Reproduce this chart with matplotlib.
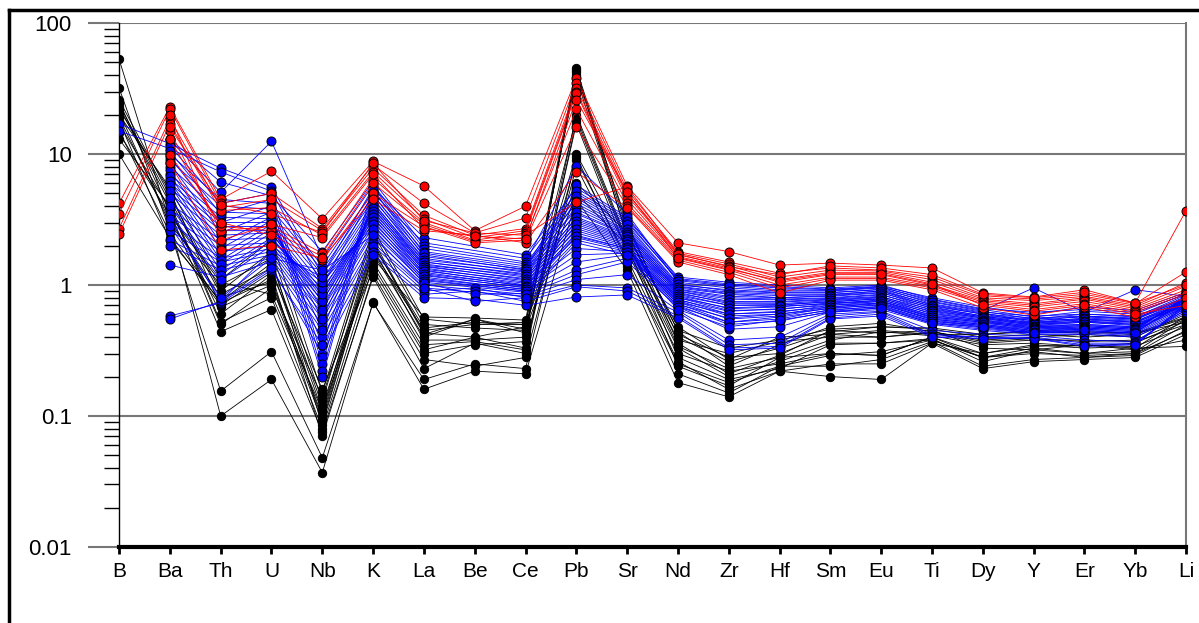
import numpy as np
import matplotlib.pyplot as plt
from matplotlib.lines import Line2D
from matplotlib.ticker import LogLocator, NullFormatter, FixedLocator

plt.rcParams['font.family'] = ['Liberation Sans', 'DejaVu Sans']

elements = ['B', 'Ba', 'Th', 'U', 'Nb', 'K', 'La', 'Be', 'Ce', 'Pb', 'Sr',
            'Nd', 'Zr', 'Hf', 'Sm', 'Eu', 'Ti', 'Dy', 'Y', 'Er', 'Yb', 'Li']
N = np.nan

# black group
black_samples = [
    [53, 3.0, 0.10, 0.19, 0.037, 0.74, 0.16, 0.22, 0.21, 4.5, 1.3, 0.18, 0.14, 0.22, 0.20, 0.19, 0.36, 0.23, 0.26, 0.27, 0.28, 0.42],
    [32, 2.6, 0.155, 0.31, 0.048, 0.73, 0.19, 0.25, 0.23, 9.5, 1.5, 0.21, 0.15, 0.24, 0.24, 0.27, 0.37, 0.24, 0.27, 0.28, 0.29, 0.45],
    [25, 3.6, 0.44, 0.65, 0.075, 1.15, 0.23, 0.36, 0.30, 18, 2.0, 0.24, 0.17, 0.28, 0.30, 0.29, 0.40, 0.28, 0.31, 0.28, 0.30, 0.50],
    [23, 4.2, 0.52, 0.80, 0.08, 1.4, 0.32, 0.40, 0.33, 20, 2.2, 0.28, 0.19, 0.23, 0.35, 0.36, 0.38, 0.28, 0.33, 0.30, 0.31, 0.55],
    [22, 5.2, 0.68, 1.0, 0.09, 1.75, 0.40, 0.55, 0.43, 42, 2.6, 0.36, 0.21, 0.29, 0.45, 0.43, 0.45, 0.33, 0.32, 0.35, 0.33, 0.58],
    [19, 3.1, 0.81, 1.05, 0.10, 2.0, 0.47, 0.52, 0.50, 45, 2.8, 0.44, 0.24, 0.35, 0.48, 0.51, 0.44, 0.38, 0.40, 0.42, 0.40, 0.60],
    [18, 2.2, 0.75, 1.47, 0.12, 1.6, 0.57, 0.56, 0.54, 38, 2.4, 0.48, 0.27, 0.40, 0.42, 0.45, 0.42, 0.42, 0.45, 0.44, 0.43, 0.52],
    [14.5, 3.4, 1.05, 0.85, 0.11, 1.5, 0.35, 0.37, 0.32, 17, 1.8, 0.30, 0.22, 0.25, 0.30, 0.29, 0.40, 0.30, 0.34, 0.35, 0.32, 0.38],
    [13, 4.0, 0.50, 0.95, 0.14, 2.2, 0.43, 0.40, 0.48, 10, 1.9, 0.33, 0.20, 0.26, 0.36, 0.36, 0.39, 0.26, 0.32, 0.30, 0.33, 0.34],
    [10, 2.3, 0.70, 1.25, 0.16, 1.3, 0.30, 0.35, 0.37, 9.0, 1.6, 0.26, 0.16, 0.22, 0.25, 0.25, 0.36, 0.30, 0.35, 0.33, 0.34, 0.48],
    [26, 4.8, 0.90, 1.8, 0.13, 2.5, 0.50, 0.47, 0.45, 40, 3.0, 0.40, 0.26, 0.33, 0.44, 0.48, 0.46, 0.40, 0.42, 0.40, 0.42, 0.56],
    [21, 2.9, 1.0, 1.6, 0.085, 1.8, 0.45, 0.50, 0.52, 19, 2.1, 0.38, 0.30, 0.37, 0.40, 0.40, 0.43, 0.36, 0.38, 0.38, 0.37, 0.50],
    [17, 3.8, 0.60, 1.2, 0.07, 1.2, 0.27, 0.24, 0.28, 8.0, 1.4, 0.25, 0.18, 0.24, 0.29, 0.31, 0.38, 0.28, 0.30, 0.29, 0.30, 0.44],
    [20, 5.5, 1.1, 2.2, 0.15, 2.7, 0.55, 0.50, 0.50, 6.0, 2.5, 0.45, 0.33, 0.38, 0.46, 0.48, 0.47, 0.42, 0.44, 0.43, 0.43, 0.57],
    [15, 2.5, 0.73, 1.1, 0.095, 1.9, 0.38, 0.38, 0.40, 44, 2.3, 0.34, 0.23, 0.28, 0.38, 0.44, 0.41, 0.35, 0.36, 0.34, 0.36, 0.53],
    [24, 4.5, 0.85, 1.35, 0.11, 2.1, 0.42, 0.55, 0.46, 5.0, 2.0, 0.42, 0.28, 0.30, 0.42, 0.40, 0.44, 0.37, 0.39, 0.37, 0.38, 0.55],
]

# blue group
blue_samples = [
    [17, 12, 7.8, 5.6, 1.2, 5.5, 2.3, N, 1.7, 5.5, 3.2, 1.15, 1.05, 1.0, 0.95, 1.0, 0.78, 0.66, 0.62, 0.65, 0.62, 0.85],
    [15, 11, 7.3, 5.2, 1.0, 5.0, 2.1, N, 1.6, 5.0, 3.0, 1.1, 1.0, 0.95, 0.92, 0.97, 0.75, 0.64, 0.95, 0.62, 0.92, 0.82],
    [N, 13, 6.1, 4.8, 1.8, 6.2, 2.0, N, 1.5, 8.1, 3.5, 1.05, 0.95, 0.9, 0.9, 0.95, 0.72, 0.62, 0.58, 0.60, 0.58, 0.80],
    [N, 12.8, 5.1, 12.5, 1.6, 5.8, 1.9, N, 1.45, 4.6, 2.8, 1.0, 0.92, 0.88, 0.88, 0.92, 0.70, 0.60, 0.56, 0.58, 0.56, 0.78],
    [N, 10, 4.5, 4.2, 1.4, 5.2, 1.8, N, 1.4, 4.2, 2.6, 0.98, 0.88, 0.85, 0.85, 0.9, 0.68, 0.58, 0.55, 0.57, 0.55, 0.76],
    [N, 9, 4.0, 3.8, 1.3, 4.8, 1.7, N, 1.3, 3.8, 2.5, 0.95, 0.85, 0.8, 0.83, 0.88, 0.66, 0.57, 0.54, 0.55, 0.53, 0.74],
    [N, 8, 3.6, 3.5, 1.2, 4.5, 1.6, N, 1.25, 3.5, 2.4, 0.92, 0.8, 0.78, 0.8, 0.85, 0.64, 0.56, 0.52, 0.54, 0.52, 0.72],
    [N, 7, 3.3, 3.2, 1.1, 4.2, 1.5, N, 1.2, 3.2, 2.3, 0.9, 0.75, 0.75, 0.78, 0.82, 0.62, 0.55, 0.51, 0.53, 0.50, 0.70],
    [N, 6.5, 3.0, 3.0, 1.0, 4.0, 1.45, N, 1.15, 3.0, 2.2, 0.88, 0.72, 0.72, 0.76, 0.8, 0.60, 0.54, 0.50, 0.52, 0.49, 0.72],
    [N, 6.0, 2.8, 2.8, 0.9, 3.8, 1.4, N, 1.1, 2.8, 2.1, 0.85, 0.7, 0.7, 0.75, 0.78, 0.58, 0.53, 0.49, 0.50, 0.48, 0.75],
    [N, 5.5, 2.6, 2.6, 0.85, 3.6, 1.35, N, 1.05, 2.6, 2.0, 0.82, 0.66, 0.68, 0.73, 0.76, 0.57, 0.52, 0.48, 0.49, 0.47, 0.78],
    [N, 5.0, 2.4, 2.5, 0.8, 3.4, 1.3, N, 1.0, 2.4, 1.9, 0.8, 0.64, 0.65, 0.72, 0.75, 0.56, 0.51, 0.47, 0.48, 0.46, 0.80],
    [N, 4.2, 2.2, 2.3, 0.75, 3.2, 1.25, N, 0.98, 2.3, 1.85, 0.78, 0.6, 0.62, 0.7, 0.73, 0.55, 0.50, 0.46, 0.47, 0.45, 0.82],
    [N, 3.8, 2.0, 2.1, 0.7, 3.0, 1.2, N, 0.95, 1.9, 1.8, 0.76, 0.58, 0.6, 0.68, 0.72, 0.54, 0.49, 0.45, 0.46, 0.44, 0.70],
    [N, 3.4, 1.8, 2.0, 0.65, 2.8, 1.15, N, 0.92, 1.7, 1.75, 0.74, 0.55, 0.58, 0.67, 0.7, 0.53, 0.48, 0.44, 0.45, 0.43, 0.68],
    [N, 3.0, 1.6, 1.9, 0.6, 2.6, 1.1, N, 0.9, 1.5, 1.7, 0.72, 0.52, 0.55, 0.65, 0.68, 0.52, 0.47, 0.43, 0.44, 0.42, 0.66],
    [N, 2.6, 1.5, 1.8, 0.55, 2.5, 1.05, N, 0.88, 1.3, 1.6, 0.7, 0.5, 0.53, 0.63, 0.67, 0.51, 0.46, 0.43, 0.43, 0.41, 0.64],
    [N, 2.2, 1.4, 1.7, 0.5, 2.3, 1.0, N, 0.85, 1.2, 1.5, 0.68, 0.46, 0.48, 0.62, 0.65, 0.50, 0.45, 0.42, 0.42, 0.40, 0.62],
    [N, 2.0, 1.3, 1.6, 0.45, 2.1, 0.95, N, 0.82, 1.1, 1.2, 0.64, 0.38, 0.40, 0.6, 0.63, 0.45, 0.42, 0.41, 0.38, 0.37, 0.65],
    [N, 1.42, 1.15, 1.5, 0.4, 2.0, 0.9, 0.95, 0.8, 1.0, 0.95, 0.62, 0.35, 0.36, 0.58, 0.62, 0.42, 0.40, 0.40, 0.36, 0.36, 0.68],
    [N, 0.58, 0.73, 1.3, 0.35, 1.8, 0.85, 0.9, 0.75, 0.97, 0.9, 0.58, 0.33, 0.34, 0.56, 0.6, 0.41, 0.40, 0.39, 0.35, 0.35, 0.70],
    [N, 0.55, 0.75, 1.35, 0.3, 1.7, 0.8, 0.78, 0.7, 0.81, 0.84, 0.56, 0.32, 0.33, 0.55, 0.58, 0.40, 0.39, 0.39, 0.34, 0.35, 0.72],
    [N, 11.5, 4.2, 5.0, 0.28, 5.6, 1.75, N, 1.35, 5.8, 3.3, 1.12, 1.02, 0.97, 0.93, 0.98, 0.80, 0.68, 0.60, 0.68, 0.64, 0.88],
    [N, 10.5, 3.5, 4.5, 0.25, 5.3, 1.65, N, 1.32, 5.2, 3.1, 1.08, 0.98, 0.92, 0.91, 0.96, 0.77, 0.65, 0.57, 0.63, 0.60, 0.86],
    [N, 9.5, 3.0, 4.0, 0.22, 4.9, 1.55, N, 1.28, 4.8, 2.9, 1.02, 0.9, 0.87, 0.87, 0.93, 0.74, 0.63, 0.55, 0.6, 0.57, 0.84],
    [N, 8.5, 2.5, 3.6, 0.2, 4.6, 1.5, N, 1.22, 4.4, 2.7, 0.97, 0.86, 0.83, 0.84, 0.9, 0.71, 0.61, 0.53, 0.58, 0.55, 0.82],
    [N, 7.5, 2.1, 3.3, 0.35, 4.3, 1.42, N, 1.18, 4.0, 2.55, 0.93, 0.82, 0.8, 0.82, 0.87, 0.69, 0.6, 0.52, 0.56, 0.54, 0.80],
    [N, 6.8, 1.9, 3.1, 0.45, 4.1, 1.38, N, 1.12, 3.6, 2.45, 0.9, 0.78, 0.77, 0.79, 0.84, 0.67, 0.58, 0.51, 0.55, 0.52, 0.78],
    [N, 6.2, 1.7, 2.9, 0.55, 3.9, 1.32, N, 1.08, 3.3, 2.35, 0.86, 0.74, 0.74, 0.77, 0.81, 0.65, 0.57, 0.5, 0.53, 0.51, 0.76],
    [N, 5.8, 1.55, 2.7, 0.65, 3.7, 1.28, N, 1.03, 3.1, 2.25, 0.83, 0.7, 0.71, 0.74, 0.79, 0.63, 0.56, 0.49, 0.52, 0.5, 0.74],
    [N, 5.2, 1.45, 2.5, 0.75, 3.5, 1.22, N, 0.99, 2.9, 2.15, 0.8, 0.67, 0.69, 0.72, 0.77, 0.61, 0.54, 0.48, 0.5, 0.48, 0.72],
    [N, 4.6, 1.3, 2.3, 0.85, 3.3, 1.18, N, 0.96, 2.7, 2.05, 0.77, 0.63, 0.66, 0.7, 0.75, 0.59, 0.53, 0.47, 0.49, 0.47, 0.70],
    [N, 4.0, 1.2, 2.2, 0.95, 3.1, 1.12, N, 0.93, 2.5, 1.95, 0.74, 0.6, 0.63, 0.68, 0.73, 0.57, 0.52, 0.46, 0.48, 0.46, 0.68],
    [N, 3.5, 1.1, 2.0, 1.05, 2.9, 1.08, N, 0.9, 2.35, 1.9, 0.71, 0.56, 0.6, 0.66, 0.71, 0.55, 0.5, 0.45, 0.47, 0.45, 0.72],
    [N, 3.2, 0.75, 1.8, 1.15, 2.7, 1.03, 0.85, 0.86, 2.2, 1.8, 0.68, 0.52, 0.57, 0.64, 0.69, 0.53, 0.49, 0.44, 0.46, 0.44, 0.75],
    [N, 2.8, 0.8, 1.6, 1.3, 2.4, 0.95, 0.75, 0.8, 2.1, 1.7, 0.65, 0.48, 0.54, 0.62, 0.67, 0.51, 0.48, 0.43, 0.45, 0.43, 0.78],
]

# red group
red_samples = [
    [4.2, 23, 4.5, 7.4, 3.2, 8.8, 5.7, 2.6, 4.0, 38, 5.7, 2.1, 1.8, 1.42, 1.47, 1.42, 1.35, 0.87, 0.81, 0.92, 0.73, 3.7],
    [3.5, 22, 4.2, 5.0, 2.7, 8.3, 4.2, 2.5, 3.25, 35, 5.3, 1.8, 1.5, 1.23, 1.35, 1.3, 1.15, 0.83, 0.78, 0.85, 0.72, 1.26],
    [2.7, 18.5, 3.9, 4.5, 2.6, 7.8, 3.4, 2.4, 2.7, 32, 5.0, 1.75, 1.45, 1.15, 1.3, 1.28, 1.1, 0.8, 0.76, 0.82, 0.70, 1.04],
    [2.45, 17, 3.7, 3.9, 2.4, 7.3, 3.2, 2.3, 2.6, 30, 4.8, 1.7, 1.4, 1.1, 1.25, 1.25, 1.05, 0.78, 0.72, 0.8, 0.68, 0.98],
    [N, 15, 2.6, 2.8, 1.75, 6.5, 3.0, 2.2, 2.5, 29, 4.5, 1.65, 1.35, 1.05, 1.2, 1.2, 1.0, 0.76, 0.7, 0.78, 0.66, 0.92],
    [N, 13, 2.8, 2.6, 1.65, 6.0, 2.9, 2.15, 2.3, 22, 4.2, 1.6, 1.3, 1.0, 1.15, 1.15, 0.98, 0.74, 0.68, 0.75, 0.64, 0.88],
    [N, 9.8, 3.0, 2.4, 1.55, 5.0, 2.8, 2.1, 2.2, 16, 4.0, 1.55, 1.25, 0.95, 1.12, 1.12, 0.95, 0.72, 0.65, 0.72, 0.62, 0.85],
    [N, 8.5, 1.85, 2.0, 1.6, 4.5, 2.6, 2.4, 2.1, 7.3, 3.9, 1.5, 1.2, 0.87, 1.09, 1.09, 0.92, 0.67, 0.59, 0.68, 0.57, 0.80],
    [N, 16, 4.1, 3.5, 2.5, 8.5, 3.1, 2.5, 2.4, 4.3, 5.6, 1.72, 1.38, 1.2, 1.4, 1.35, 1.2, 0.85, 0.8, 0.88, 0.73, 1.0],
    [N, 20, 2.2, 2.9, 2.3, 7.0, 2.7, 2.35, 2.25, 26, 5.1, 1.62, 1.32, 1.08, 1.22, 1.22, 1.02, 0.7, 0.63, 0.7, 0.6, 0.70],
]

fig = plt.figure(figsize=(11.99, 6.23), dpi=100)
ax = fig.add_axes([0.0993, 0.122, 0.8899, 0.841])

xpos = np.arange(len(elements))

def draw_group(samples, colour, ms):
    for s in samples:
        v = np.array(s, dtype=float)
        ok = np.isfinite(v)
        ax.plot(xpos[ok], v[ok], '-', color=colour, lw=0.6, marker='o',
                ms=ms, mfc=colour, mec='black', mew=0.7, zorder=3)

draw_group(black_samples, 'black', 6)
draw_group(blue_samples, '#0000ff', 6.5)
draw_group(red_samples, '#ff0000', 6.5)

ax.set_yscale('log')
ax.set_ylim(0.01, 100)
ax.set_xlim(0, len(elements) - 1)

# y axis
ax.yaxis.set_major_locator(FixedLocator([0.01, 0.1, 1, 10, 100]))
ax.set_yticklabels(['0.01', '0.1', '1', '10', '100'])
ax.yaxis.set_minor_locator(LogLocator(base=10, subs=np.arange(2, 10)))
ax.yaxis.set_minor_formatter(NullFormatter())
ax.tick_params(axis='y', which='major', direction='out', length=22, width=1.5,
               color='#777777', labelsize=16, pad=12)
ax.tick_params(axis='y', which='minor', direction='out', length=11, width=1,
               color='black')
ax.yaxis.grid(True, which='major', color='#777777', lw=1.5, zorder=1)

# x axis
ax.set_xticks(xpos)
ax.set_xticklabels(elements)
ax.tick_params(axis='x', direction='out', length=5, width=2, color='black',
               labelsize=15, pad=6)

ax.spines['bottom'].set_linewidth(3)
ax.spines['bottom'].set_color('black')
ax.spines['left'].set_linewidth(1)
ax.spines['left'].set_color('black')
ax.spines['right'].set_color('#777777')
ax.spines['right'].set_linewidth(1.5)
ax.spines['top'].set_visible(False)
ax.set_axisbelow(True)

# outer frame
fig.add_artist(Line2D([9 / 1199, 9 / 1199], [0, 1 - 10 / 623], color='black', lw=2.5))
fig.add_artist(Line2D([9 / 1199, 1], [1 - 10 / 623, 1 - 10 / 623], color='black', lw=2.5))

fig.savefig('out.png', dpi=100)
